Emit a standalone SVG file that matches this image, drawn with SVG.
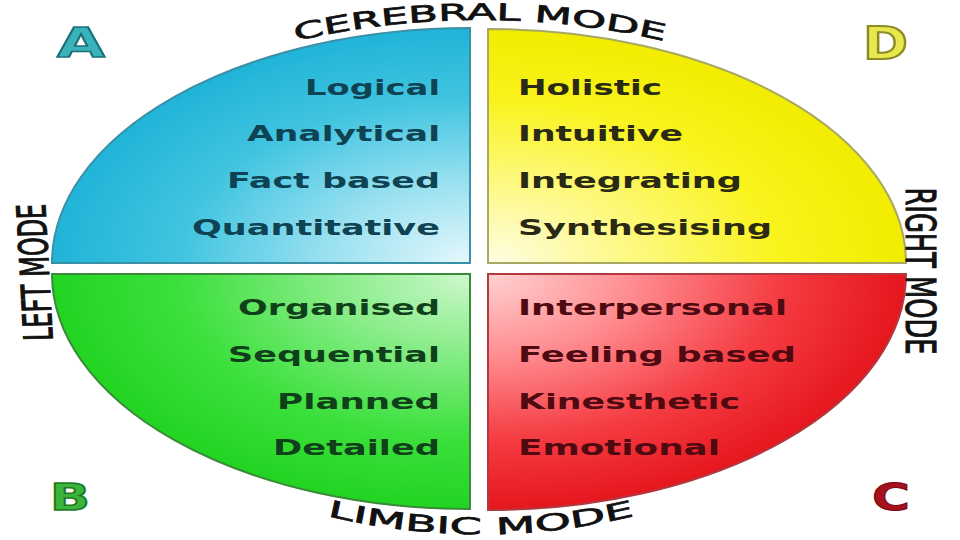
<svg xmlns="http://www.w3.org/2000/svg" width="960" height="540" viewBox="0 0 960 540">
  <defs>
    <radialGradient id="gA" cx="1" cy="1" r="1" fx="1" fy="1">
      <stop offset="0" stop-color="#e6f8fc"/>
      <stop offset="0.35" stop-color="#98e0f0"/>
      <stop offset="0.7" stop-color="#40c4e0"/>
      <stop offset="1" stop-color="#20b4d8"/>
    </radialGradient>
    <radialGradient id="gD" cx="0" cy="1" r="1" fx="0" fy="1">
      <stop offset="0" stop-color="#fffde6"/>
      <stop offset="0.35" stop-color="#fdf980"/>
      <stop offset="0.7" stop-color="#f9f31c"/>
      <stop offset="1" stop-color="#f2ec00"/>
    </radialGradient>
    <radialGradient id="gB" cx="1" cy="0" r="1" fx="1" fy="0">
      <stop offset="0" stop-color="#cdf8cd"/>
      <stop offset="0.35" stop-color="#84ec84"/>
      <stop offset="0.7" stop-color="#3ce03c"/>
      <stop offset="1" stop-color="#22d422"/>
    </radialGradient>
    <radialGradient id="gC" cx="0" cy="0" r="1" fx="0" fy="0">
      <stop offset="0" stop-color="#ffd2d2"/>
      <stop offset="0.35" stop-color="#ff8c90"/>
      <stop offset="0.7" stop-color="#f43c42"/>
      <stop offset="1" stop-color="#e6161e"/>
    </radialGradient>
    <path id="arcTop" d="M280,45 A812,812 0 0 1 680,45"/>
    <path id="arcBottom" d="M320,514 A650,650 0 0 0 642,514"/>
  </defs>
  <style>
    .word { font-family: "DejaVu Sans", Verdana, sans-serif; font-weight: bold; font-size: 22px; }
    .mode { font-family: "DejaVu Sans", Verdana, sans-serif; font-size: 23px; fill: #111; stroke: #111; stroke-width: 0.7; }
    .badge { font-family: "DejaVu Sans", Verdana, sans-serif; font-weight: bold; font-size: 40px; }
    .ta { fill: #0f4252; }
    .td { fill: #2a2a14; }
    .tb { fill: #10401a; }
    .tc { fill: #4e0a10; }
  </style>
  <rect width="960" height="540" fill="#ffffff"/>

  <g id="connectors"/>

  <g id="quadrant-a">
    <path d="M470,263 L52,263 A418,235 0 0 1 470,28 Z" fill="url(#gA)" stroke="#3a90a6" stroke-width="2"/>
    <text class="word ta" x="440" y="94.5" text-anchor="end" textLength="135" lengthAdjust="spacingAndGlyphs">Logical</text>
    <text class="word ta" x="440" y="141" text-anchor="end" textLength="193" lengthAdjust="spacingAndGlyphs">Analytical</text>
    <text class="word ta" x="440" y="188" text-anchor="end" textLength="213" lengthAdjust="spacingAndGlyphs">Fact based</text>
    <text class="word ta" x="440" y="234.5" text-anchor="end" textLength="248" lengthAdjust="spacingAndGlyphs">Quantitative</text>
  </g>

  <g id="quadrant-d">
    <path d="M488,263 L488,29 A418,234 0 0 1 906,263 Z" fill="url(#gD)" stroke="#a8a862" stroke-width="2"/>
    <text class="word td" x="518" y="94.5" textLength="144" lengthAdjust="spacingAndGlyphs">Holistic</text>
    <text class="word td" x="518" y="141" textLength="165" lengthAdjust="spacingAndGlyphs">Intuitive</text>
    <text class="word td" x="518" y="188" textLength="224" lengthAdjust="spacingAndGlyphs">Integrating</text>
    <text class="word td" x="518" y="234.5" textLength="254" lengthAdjust="spacingAndGlyphs">Synthesising</text>
  </g>

  <g id="quadrant-b">
    <path d="M470,274 L470,509 A418,235 0 0 1 52,274 Z" fill="url(#gB)" stroke="#3a8a3a" stroke-width="2"/>
    <text class="word tb" x="440" y="315" text-anchor="end" textLength="202" lengthAdjust="spacingAndGlyphs">Organised</text>
    <text class="word tb" x="440" y="362" text-anchor="end" textLength="212" lengthAdjust="spacingAndGlyphs">Sequential</text>
    <text class="word tb" x="440" y="408.5" text-anchor="end" textLength="163" lengthAdjust="spacingAndGlyphs">Planned</text>
    <text class="word tb" x="440" y="455" text-anchor="end" textLength="167" lengthAdjust="spacingAndGlyphs">Detailed</text>
  </g>

  <g id="quadrant-c">
    <path d="M488,274 L906,274 A418,236 0 0 1 488,510 Z" fill="url(#gC)" stroke="#b03a40" stroke-width="2"/>
    <text class="word tc" x="518" y="315" textLength="269" lengthAdjust="spacingAndGlyphs">Interpersonal</text>
    <text class="word tc" x="518" y="362" textLength="278" lengthAdjust="spacingAndGlyphs">Feeling based</text>
    <text class="word tc" x="518" y="408.5" textLength="222" lengthAdjust="spacingAndGlyphs">Kinesthetic</text>
    <text class="word tc" x="518" y="455" textLength="202" lengthAdjust="spacingAndGlyphs">Emotional</text>
  </g>

  <g id="label-cerebral">
    <text class="mode"><textPath href="#arcTop" startOffset="50%" text-anchor="middle" textLength="372" lengthAdjust="spacingAndGlyphs">CEREBRAL MODE</textPath></text>
  </g>
  <g id="label-limbic">
    <text class="mode"><textPath href="#arcBottom" startOffset="50%" text-anchor="middle" textLength="310" lengthAdjust="spacingAndGlyphs">LIMBIC MODE</textPath></text>
  </g>
  <g id="label-left">
    <text class="mode" transform="translate(49,272) scale(1.6,1) rotate(-92)" text-anchor="middle" textLength="137" lengthAdjust="spacingAndGlyphs" style="font-size:25px">LEFT MODE</text>
  </g>
  <g id="label-right">
    <text class="mode" transform="translate(906,271) scale(1.6,1) rotate(90)" text-anchor="middle" textLength="167" lengthAdjust="spacingAndGlyphs" style="font-size:26px">RIGHT MODE</text>
  </g>

  <g id="badge-a">
    <text class="badge" x="57" y="57" textLength="48" lengthAdjust="spacingAndGlyphs" fill="#3ab2ba" stroke="#1a7078" stroke-width="1.5">A</text>
  </g>
  <g id="badge-d">
    <text class="badge" x="863" y="59" textLength="45" lengthAdjust="spacingAndGlyphs" fill="#e8e84e" stroke="#8c8c24" stroke-width="2" style="font-size:44px">D</text>
  </g>
  <g id="badge-b">
    <text class="badge" x="50" y="510" textLength="40" lengthAdjust="spacingAndGlyphs" fill="#3cb43c" stroke="#1e7a1e" stroke-width="1.5" style="font-size:37px">B</text>
  </g>
  <g id="badge-c">
    <text class="badge" x="872" y="510" textLength="38" lengthAdjust="spacingAndGlyphs" fill="#a5121e" stroke="#7a0a14" stroke-width="1" style="font-size:38px">C</text>
  </g>
</svg>
